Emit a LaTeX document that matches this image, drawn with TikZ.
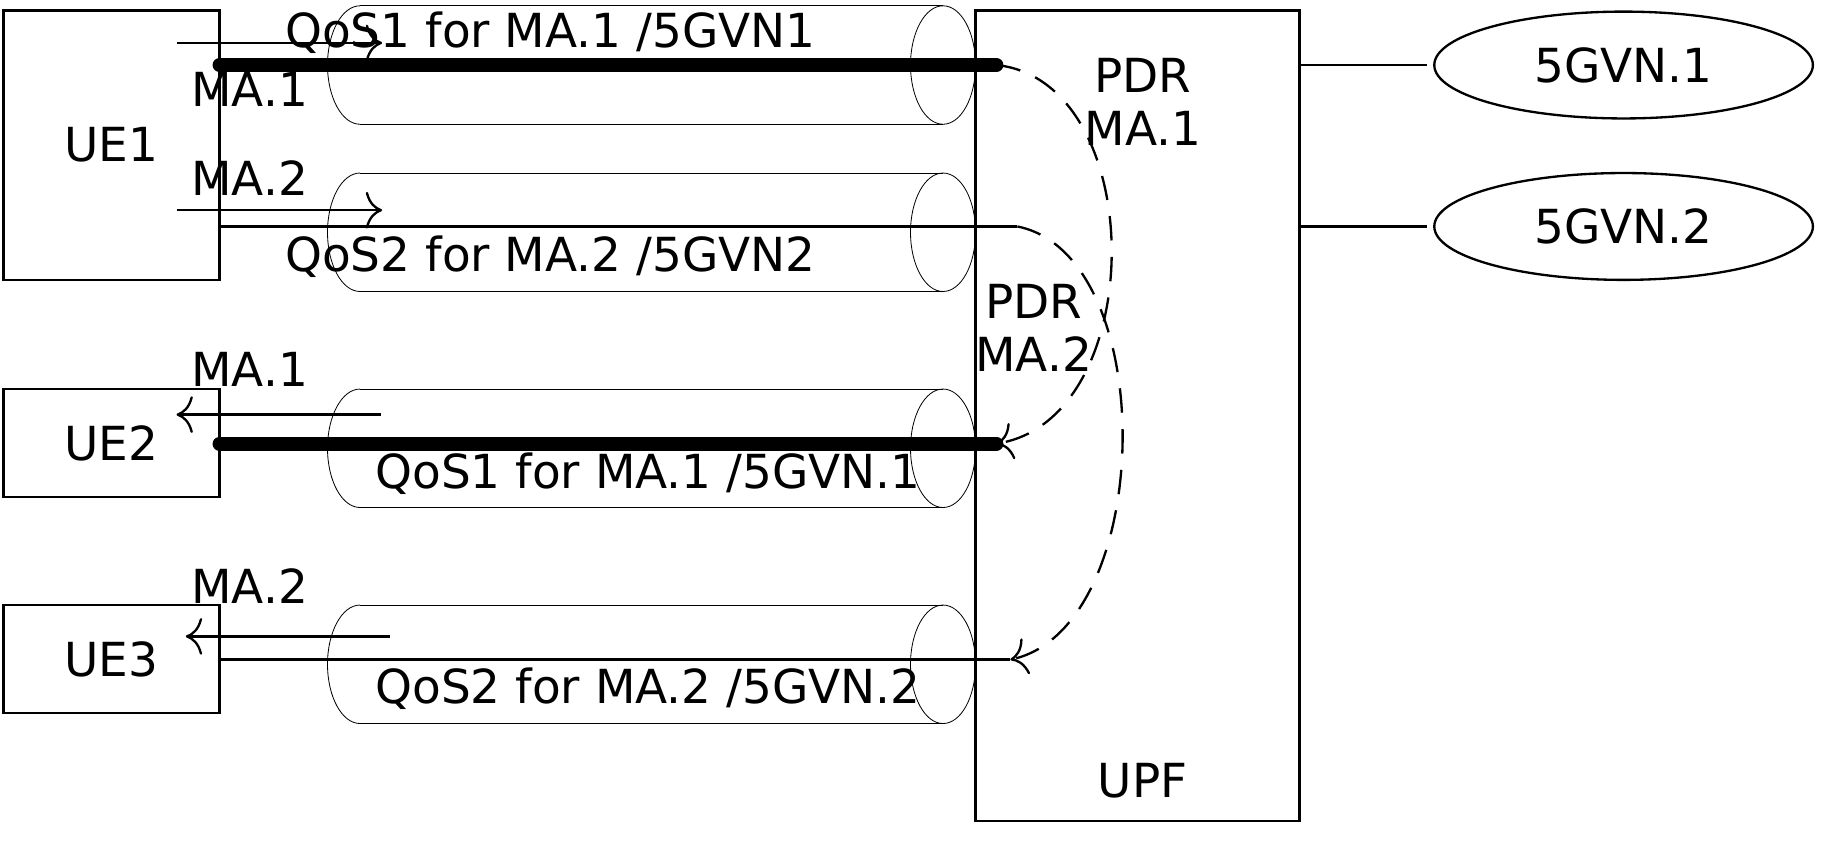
\documentclass[tikz,border=0pt]{standalone}
\usepackage{fontspec}
\setmainfont{DejaVu Sans}
\usetikzlibrary{arrows.meta, shapes.geometric}

% Horizontal pipe drawn around a centre height.
\newcommand{\qospipe}[1]{%
    \draw[line width = 0.2pt] (3.10, #1+0.51) -- (8.12, #1+0.51);
    \draw[line width = 0.2pt] (3.10, #1-0.51) -- (8.12, #1-0.51);
    \draw[line width = 0.2pt] (8.12, #1) ellipse (0.28 and 0.51);
    \draw[line width = 0.2pt] (3.10, #1+0.51) arc (90:270:0.28 and 0.51);
}

\begin{document}
\begin{tikzpicture}[%
        line width = 0.2mm,
        font = \fontsize{11.5}{13}\selectfont,
        box/.style = {draw, inner sep = 0pt},
        lbl/.style = {inner sep = 0pt, align = center},
        flow/.style = {-{To[length = 4pt, width = 9pt]}},
        bearer/.style = {line width = 1.2mm, line cap = round},
        redirect/.style = {dashed, dash pattern = on 6pt off 4pt, -{To[length = 4pt, width = 9pt]}}
    ]
        \useasboundingbox (0, 0) rectangle (15.68, -7.34);

        % Pipes for the QoS flows.
        \qospipe{-0.56}
        \qospipe{-2.00}
        \qospipe{-3.86}
        \qospipe{-5.72}

        % Boxes for the UEs and the UPF.
        \node[box, minimum width = 1.86cm, minimum height = 2.32cm] (UE1) at (0.96, -1.25) {UE1};
        \node[box, minimum width = 1.86cm, minimum height = 0.93cm] (UE2) at (0.96, -3.815) {UE2};
        \node[box, minimum width = 1.86cm, minimum height = 0.93cm] (UE3) at (0.96, -5.675) {UE3};
        \draw (8.40, -0.09) rectangle (11.19, -7.07);
        \node[lbl] (UPF) at (9.84, -6.72) {UPF};
        \node[lbl] (PDR1) at (9.84, -0.88) {PDR\\MA.1};
        \node[lbl] (PDR2) at (8.90, -2.82) {PDR\\MA.2};

        % Ellipses for the networks.
        \node[draw, ellipse, minimum width = 3.26cm, minimum height = 0.92cm] (GVN1) at (13.98, -0.56) {5GVN.1};
        \node[draw, ellipse, minimum width = 3.26cm, minimum height = 0.92cm] (GVN2) at (13.98, -1.95) {5GVN.2};
        \coordinate (N1) at (11.19, -0.56);
        \coordinate (N2) at (11.19, -1.95);
        \draw (N1) -- ++(1.10, 0) coordinate (N1e);
        \draw (N2) -- ++(1.10, 0) coordinate (N2e);

        % End points of the bearers.
        \coordinate (A1) at (1.89, -0.56);
        \coordinate (B1) at (8.58, -0.56);
        \coordinate (A2) at (1.89, -1.95);
        \coordinate (B2) at (8.76, -1.95);
        \coordinate (A3) at (1.89, -3.82);
        \coordinate (B3) at (8.58, -3.82);
        \coordinate (A4) at (1.89, -5.68);
        \coordinate (B4) at (8.70, -5.68);

        \draw[bearer] (A1) -- (B1);
        \draw (A2) -- (B2);
        \draw[bearer] (A3) -- (B3);
        \draw (A4) -- (B4);

        % Direction arrows.
        \coordinate (F1s) at (1.52, -0.37);
        \coordinate (F1e) at (3.29, -0.37);
        \coordinate (F2s) at (1.52, -1.81);
        \coordinate (F2e) at (3.29, -1.81);
        \coordinate (F3s) at (3.28, -3.57);
        \coordinate (F3e) at (1.52, -3.57);
        \coordinate (F4s) at (3.36, -5.48);
        \coordinate (F4e) at (1.60, -5.48);
        \draw[flow] (F1s) -- (F1e);
        \draw[flow] (F2s) -- (F2e);
        \draw[flow] (F3s) -- (F3e);
        \draw[flow] (F4s) -- (F4e);

        % Redirection inside the UPF.
        \draw[redirect] (B1) .. controls (9.90, -0.70) and (9.90, -3.60) .. (B3);
        \draw[redirect] (B2) .. controls (10.00, -2.20) and (9.95, -5.40) .. (B4);

        % Labels.
        \node[lbl] (Q1) at (4.74, -0.28) {QoS1 for MA.1 /5GVN1};
        \node[lbl] (Q2) at (4.74, -2.21) {QoS2 for MA.2 /5GVN2};
        \node[lbl] (Q3) at (5.58, -4.08) {QoS1 for MA.1 /5GVN.1};
        \node[lbl] (Q4) at (5.58, -5.93) {QoS2 for MA.2 /5GVN.2};
        \node[lbl] (M1) at (2.15, -0.77) {MA.1};
        \node[lbl] (M2) at (2.15, -1.53) {MA.2};
        \node[lbl] (M3) at (2.15, -3.18) {MA.1};
        \node[lbl] (M4) at (2.15, -5.05) {MA.2};
\end{tikzpicture}
\end{document}
